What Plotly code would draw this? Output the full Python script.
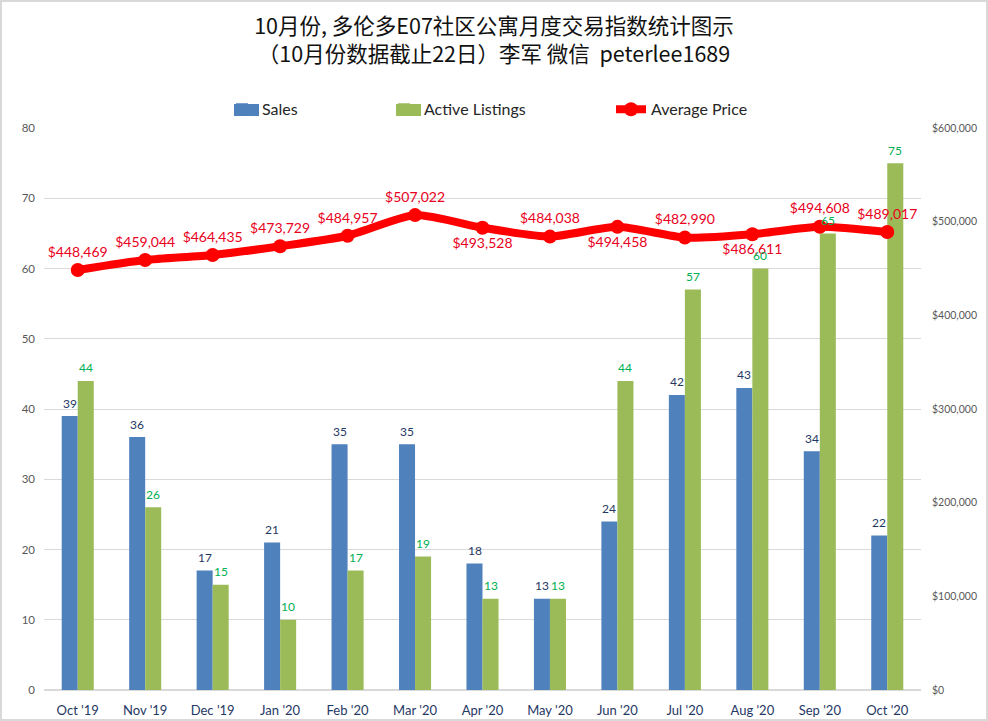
import plotly.graph_objects as go

# Monthly data
months = ["Oct '19", "Nov '19", "Dec '19", "Jan '20", "Feb '20", "Mar '20", "Apr '20",
          "May '20", "Jun '20", "Jul '20", "Aug '20", "Sep '20", "Oct '20"]
sales = [39, 36, 17, 21, 35, 35, 18, 13, 24, 42, 43, 34, 22]
active_listings = [44, 26, 15, 10, 17, 19, 13, 13, 44, 57, 60, 65, 75]
avg_price = [448469, 459044, 464435, 473729, 484957, 507022, 493528,
             484038, 494458, 482990, 486611, 494608, 489017]

# Price labels sit above the line except for these months
below = {"Apr '20", "Jun '20", "Aug '20"}
price_pos = ["bottom center" if m in below else "top center" for m in months]

title = "10月份, 多伦多E07社区公寓月度交易指数统计图示<br>（10月份数据截止22日）李军 微信  peterlee1689"

FONT = "Lato, 'Noto Sans CJK SC', sans-serif"
GRID = "#D9D9D9"
W, H = 988, 721
L, R, T, B = 44, 67, 128, 31
PW, PH = W - L - R, H - T - B


# pixel position on the page -> paper coordinates
def px(x):
    return (x - L) / PW


def py(y):
    return 1 - (y - T) / PH


fig = go.Figure()

fig.add_trace(go.Bar(
    x=months, y=sales, name="Sales", marker_color="#4F81BD", marker_line_width=0,
    showlegend=True, legend="legend",
))
fig.add_trace(go.Bar(
    x=months, y=active_listings, name="Active Listings", marker_color="#9BBB59", marker_line_width=0,
    showlegend=True, legend="legend2",
))
fig.add_trace(go.Scatter(
    x=months, y=avg_price, name="Average Price", yaxis="y2", showlegend=True,
    mode="lines+markers+text",
    line=dict(color="#FF0000", width=8, shape="spline", smoothing=0.6),
    marker=dict(color="#FF0000", size=14),
    text=[f"${p:,}" for p in avg_price], textposition=price_pos,
    textfont=dict(color="#E8001C", size=14), cliponaxis=False, legend="legend3",
))

# Bar labels as annotations so the 65 stays readable on top of the price line
for m, s, a in zip(months, sales, active_listings):
    fig.add_annotation(x=m, y=s, text=str(s), showarrow=False, xshift=-8, yshift=13,
                       font=dict(color="#1F3864", size=12))
    fig.add_annotation(x=m, y=a, text=str(a), showarrow=False, xshift=8, yshift=13,
                       font=dict(color="#00B050", size=12))


def legend_at(x):
    return dict(x=px(x), y=1.003, xref="paper", yref="paper", xanchor="left", yanchor="bottom",
                orientation="h", font=dict(size=16, color="#262626"),
                bgcolor="rgba(0,0,0,0)", itemwidth=30)


# chart frame and the wide legend swatches
shapes = [
    dict(type="rect", xref="paper", yref="paper", x0=px(1), x1=px(W - 1), y0=py(H - 1), y1=py(1),
         line=dict(color=GRID, width=2), layer="below"),
    dict(type="rect", xref="paper", yref="paper", x0=px(234), x1=px(259), y0=py(116), y1=py(104),
         fillcolor="#4F81BD", line_width=0),
    dict(type="rect", xref="paper", yref="paper", x0=px(396), x1=px(421), y0=py(116), y1=py(104),
         fillcolor="#9BBB59", line_width=0),
]

fig.update_layout(
    width=W, height=H,
    margin=dict(l=L, r=R, t=T, b=B, autoexpand=False),
    title=dict(text=title, x=0.5, xanchor="center", y=0.953, yanchor="top",
               font=dict(size=21.5, color="#111111", family="'Noto Sans CJK SC', sans-serif")),
    font=dict(family=FONT),
    paper_bgcolor="white", plot_bgcolor="white",
    barmode="group", bargap=0.525, bargroupgap=0,
    legend=legend_at(222), legend2=legend_at(384), legend3=legend_at(611),
    shapes=shapes,
    xaxis=dict(range=[-0.5, len(months) - 0.5], showgrid=False, ticks="", showline=True,
               linecolor=GRID, ticklabelstandoff=8,
               automargin=False, tickfont=dict(size=13, color="#1F3864")),
    yaxis=dict(range=[0, 80], dtick=10, gridcolor=GRID, zeroline=True, zerolinecolor=GRID,
               ticklabelstandoff=8, automargin=False, tickfont=dict(size=11.5, color="#595959")),
    yaxis2=dict(range=[0, 600000], dtick=100000, overlaying="y", side="right",
                showgrid=False, zeroline=False, tickprefix="$", tickformat=",d", automargin=False,
                ticklabelstandoff=10, tickfont=dict(size=10.5, color="#595959")),
)

fig.write_html("out.html", config=dict(displayModeBar=False),
               post_script="document.body.style.margin = '0';")
